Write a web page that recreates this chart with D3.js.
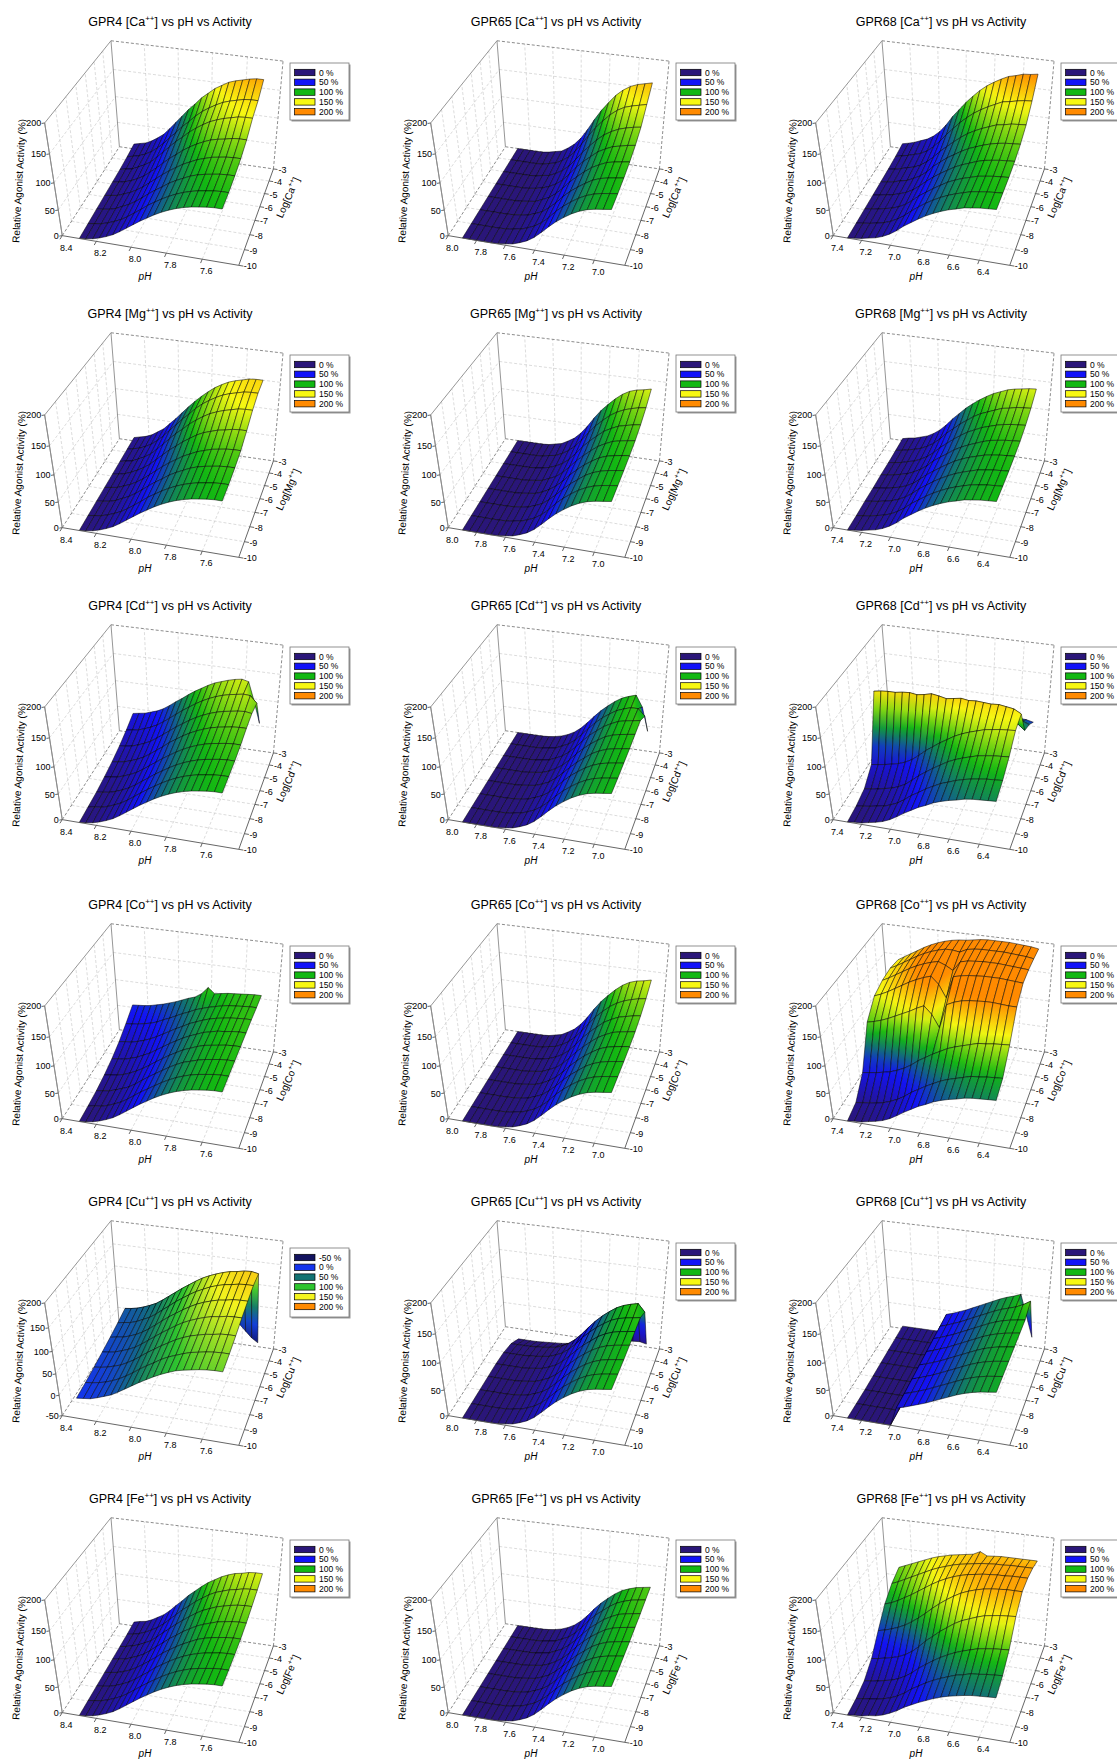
<!DOCTYPE html>
<html>
<head>
<meta charset="UTF-8">
<title>GPR4 / GPR65 / GPR68 - metal ions vs pH vs activity</title>
<script src="https://cdn.jsdelivr.net/npm/d3@7"></script>
<style>
  body { margin: 0; background: #fff; }
  svg text { font-family: "Liberation Sans", Arial, sans-serif; fill: #000; }
</style>
</head>
<body>
<svg id="chart" width="1117" height="1761"></svg>
<script>
// ---------- axes / categories ----------
var receptors = ["GPR4", "GPR65", "GPR68"];
var metals = ["Ca", "Mg", "Cd", "Co", "Cu", "Fe"];
var logConc = [-10, -9, -8, -7, -6, -5, -4, -3];
var logTicks = [-3, -4, -5, -6, -7, -8, -9, -10];
var phGPR4 = [8.30, 8.26, 8.22, 8.18, 8.14, 8.10, 8.06, 8.02, 7.98, 7.94, 7.90,
              7.86, 7.82, 7.78, 7.74, 7.70, 7.66, 7.62, 7.58, 7.54, 7.50];
var phGPR65 = [7.90, 7.85, 7.80, 7.75, 7.70, 7.65, 7.60, 7.55, 7.50, 7.45, 7.40,
               7.35, 7.30, 7.25, 7.20, 7.15, 7.10, 7.05, 7.00, 6.95, 6.90];
var phGPR68 = [7.30, 7.25, 7.20, 7.15, 7.10, 7.05, 7.00, 6.95, 6.90, 6.85, 6.80,
               6.75, 6.70, 6.65, 6.60, 6.55, 6.50, 6.45, 6.40, 6.35, 6.30];
var phRangeGPR4 = [8.4, 7.4], phRangeGPR65 = [8.0, 6.8], phRangeGPR68 = [7.4, 6.2];
var phTicksGPR4 = [8.4, 8.2, 8.0, 7.8, 7.6];
var phTicksGPR65 = [8.0, 7.8, 7.6, 7.4, 7.2, 7.0];
var phTicksGPR68 = [7.4, 7.2, 7.0, 6.8, 6.6, 6.4];
var actTicks = [0, 50, 100, 150, 200];
var actTicksCu4 = [-50, 0, 50, 100, 150, 200];
var legendLevels = [0, 50, 100, 150, 200];
var legendLevelsCu4 = [-50, 0, 50, 100, 150, 200];
var legendColors = ["#2a1679", "#1212f8", "#12b812", "#f8f812", "#ff8a00"];
var legendColorsCu4 = ["#12125e", "#1434ec", "#127272", "#2ec42e", "#f4f41e", "#ff8a00"];
// activity values at which the surface reaches each legend colour
var surfaceStops = [0, 50, 100, 140, 175];
var surfaceStopsCu4 = [-50, 0, 50, 100, 140, 175];

// ---------- surfaces: rows = log[M++] -10 .. -3, columns = pH high .. low ----------
var gpr4Ca = [
  [0,2,4,8,13,19,27,36,45,54,62,70,77,83,88,92,95,97,99,100,100],
  [1,3,5,9,14,20,28,37,46,56,64,72,79,85,90,94,97,99,101,102,102],
  [2,4,6,10,16,22,30,39,49,58,66,75,82,88,94,98,101,103,105,106,106],
  [3,5,7,12,17,24,32,42,52,62,71,79,87,93,99,103,107,109,111,112,112],
  [4,6,9,13,19,26,36,46,57,68,77,87,95,102,108,113,116,118,121,122,122],
  [5,8,10,16,22,30,41,53,65,77,87,98,107,115,122,127,131,134,137,138,138],
  [7,10,13,18,25,34,45,58,70,83,94,106,116,124,131,137,141,144,147,148,148],
  [10,13,16,22,30,39,52,66,80,94,106,119,129,139,146,153,157,160,163,165,165]];
var gpr65Ca = [
  [0,0,0,0,0,1,3,5,10,16,25,37,50,62,72,81,88,93,96,98,100],
  [0,0,0,0,0,1,3,5,10,16,25,37,51,63,73,82,89,94,97,99,101],
  [0,0,0,0,0,1,3,5,10,16,26,38,52,64,74,83,91,96,99,101,103],
  [0,0,0,0,0,1,3,5,11,17,27,40,54,66,77,87,94,100,103,105,107],
  [0,0,0,0,0,1,3,6,11,18,28,42,57,70,81,92,99,105,108,111,113],
  [0,0,0,0,0,1,4,6,12,20,31,46,62,76,89,100,108,114,118,121,123],
  [0,0,0,0,0,1,4,7,14,23,36,53,71,88,102,115,125,132,136,139,142],
  [0,0,0,0,0,2,5,8,16,26,40,59,80,99,115,130,141,149,154,157,160]];
var gpr68Ca = [
  [0,2,4,7,10,15,22,31,42,51,60,68,75,81,86,90,94,96,98,99,100],
  [1,3,5,8,11,16,23,32,43,53,62,70,77,83,88,92,96,98,100,101,102],
  [2,4,6,9,12,17,24,34,45,54,63,71,79,85,90,94,98,100,102,103,104],
  [3,5,7,10,14,19,26,36,47,57,66,74,82,88,93,98,102,104,106,107,108],
  [4,6,8,12,15,21,28,38,51,61,71,79,87,94,99,104,108,111,113,114,115],
  [5,7,10,14,17,23,32,43,56,67,78,88,97,104,110,115,120,122,125,126,127],
  [7,10,13,17,21,28,38,51,66,79,92,103,113,121,128,134,140,142,145,147,148],
  [10,13,17,22,27,35,46,61,79,94,109,122,134,144,152,159,165,168,172,173,175]];
var gpr4Mg = [
  [0,2,4,8,13,19,27,36,45,54,62,70,77,83,88,92,95,97,99,100,100],
  [1,3,5,9,14,20,28,37,46,56,64,72,79,85,90,94,97,99,101,102,102],
  [2,4,6,10,16,22,30,39,49,58,66,75,82,88,94,98,101,103,105,106,106],
  [3,5,7,12,17,24,32,42,52,62,71,79,87,93,99,103,107,109,111,112,112],
  [4,6,9,14,20,27,36,47,58,69,78,88,96,104,110,114,118,120,123,124,124],
  [5,8,10,16,22,30,41,53,65,77,87,98,107,115,122,127,131,134,137,138,138],
  [6,9,12,17,24,33,44,57,69,82,93,105,115,123,130,136,140,143,146,147,147],
  [7,10,13,18,26,34,46,58,71,84,96,107,117,126,133,139,143,146,149,150,150]];
var gpr65Mg = [
  [0,0,0,0,0,1,3,5,10,16,25,37,50,62,72,81,88,93,96,98,100],
  [0,0,0,0,0,1,3,5,10,16,25,37,51,63,73,82,89,94,97,99,101],
  [0,0,0,0,0,1,3,5,10,16,26,38,51,63,73,83,90,95,98,100,102],
  [0,0,0,0,0,1,3,5,10,17,26,38,52,64,75,84,92,97,100,102,104],
  [0,0,0,0,0,1,3,5,11,17,27,40,54,66,77,87,94,100,103,105,107],
  [0,0,0,0,0,1,3,6,11,18,28,42,57,70,81,92,99,105,108,111,113],
  [0,0,0,0,0,1,4,6,12,20,31,45,61,76,88,99,107,113,117,120,122],
  [0,0,0,0,0,1,4,7,14,22,34,50,68,84,97,109,119,126,130,132,135]];
var gpr68Mg = [
  [0,2,4,7,10,15,22,31,42,51,60,68,75,81,86,90,94,96,98,99,100],
  [0,2,4,7,10,15,22,31,42,51,60,68,75,81,86,90,94,96,98,99,100],
  [1,3,5,8,11,16,23,32,43,52,61,69,76,82,87,91,95,97,99,100,101],
  [1,3,5,8,11,16,23,33,44,53,62,70,78,84,89,93,97,99,101,102,103],
  [2,4,6,9,12,18,25,34,46,55,64,73,80,86,91,96,100,102,104,105,106],
  [2,4,6,10,13,19,26,36,48,58,68,77,85,91,97,101,105,108,110,111,112],
  [3,5,8,11,15,21,29,40,53,63,74,83,92,99,104,109,114,116,119,120,121],
  [4,7,9,13,17,24,33,45,59,71,83,93,102,110,117,122,127,130,132,134,135]];
var gpr4Cd = [
  [0,2,4,8,13,19,27,36,45,54,62,70,77,83,88,92,95,97,99,100,100],
  [2,4,6,10,15,21,29,38,47,56,64,72,79,85,90,94,97,99,101,102,102],
  [4,6,8,12,17,23,31,40,49,58,66,74,81,87,92,96,99,101,103,104,104],
  [8,10,12,16,21,27,35,44,53,62,70,78,85,91,96,100,103,105,107,108,108],
  [13,15,17,21,26,32,40,49,58,68,76,84,91,97,102,106,109,111,113,114,114],
  [20,22,24,28,33,39,47,56,65,74,82,90,97,103,108,112,115,117,119,120,118],
  [29,31,33,37,42,48,56,65,74,83,91,99,106,112,117,121,124,126,128,127,115],
  [40,42,44,48,52,58,66,75,83,92,100,107,114,120,124,128,131,133,130,95,55]];
var gpr65Cd = [
  [0,0,0,0,0,1,3,5,10,16,25,37,50,62,72,81,88,93,96,98,100],
  [0,0,0,0,0,1,3,5,10,16,25,37,50,62,72,81,88,93,96,98,100],
  [0,0,0,0,0,1,3,5,10,16,25,37,51,63,73,82,89,94,97,99,101],
  [0,0,0,0,0,1,3,5,10,16,26,38,51,63,73,83,90,95,98,100,102],
  [0,0,0,0,0,1,3,5,10,17,26,38,52,64,75,84,92,97,100,102,104],
  [0,0,0,0,0,1,3,5,11,17,27,39,53,66,76,86,93,99,102,104,106],
  [0,0,0,0,0,1,3,5,11,17,27,40,54,67,78,87,95,100,104,104,92],
  [0,0,0,0,0,1,3,6,11,18,28,41,55,68,79,89,97,102,106,85,40]];
var gpr68Cd = [
  [0,2,3,6,9,13,19,27,36,44,52,58,65,70,74,77,81,83,84,85,86],
  [3,5,7,10,12,17,23,32,42,50,59,66,73,78,83,87,90,92,94,95,96],
  [10,12,14,17,20,25,32,42,53,62,71,79,87,93,98,102,106,108,110,111,112],
  [32,34,36,39,42,47,54,64,75,84,93,101,109,115,120,124,128,130,132,133,134],
  [145,147,148,148,150,151,149,151,154,152,149,151,153,151,152,151,150,151,149,147,140],
  [92,93,94,95,96,97,98,99,100,100,101,101,102,102,102,102,102,101,100,98,88],
  [72,73,74,75,76,77,78,79,80,80,81,81,82,82,82,82,82,82,82,81,76],
  [55,55,56,57,58,59,60,60,61,61,62,62,62,62,62,62,62,62,62,61,58]];
var gpr4Co = [
  [0,2,4,8,13,19,27,36,45,54,62,70,77,83,88,92,95,97,99,100,100],
  [2,4,6,10,15,21,29,38,47,55,63,71,78,84,89,93,96,98,100,101,101],
  [5,7,9,13,18,23,31,40,49,57,65,73,80,86,90,94,97,99,101,102,102],
  [10,12,14,17,22,28,35,43,52,60,68,75,82,87,92,96,98,100,102,103,103],
  [17,19,20,24,28,34,40,48,56,64,71,78,84,89,94,97,100,101,103,104,104],
  [27,29,30,33,37,42,48,55,62,69,75,82,87,92,96,99,101,103,104,105,105],
  [40,41,43,45,48,52,58,63,69,75,80,86,90,94,97,100,102,103,104,105,105],
  [55,56,57,59,62,65,69,73,78,83,87,95,108,98,100,102,103,104,105,106,106]];
var gpr65Co = [
  [0,0,0,0,0,1,3,5,10,16,25,37,50,62,72,81,88,93,96,98,100],
  [0,0,0,0,0,1,3,5,10,16,25,37,51,63,73,82,89,94,97,99,101],
  [0,0,0,0,0,1,3,5,10,16,26,38,51,63,73,83,90,95,98,100,102],
  [0,0,0,0,0,1,3,5,10,17,26,38,52,64,75,84,92,97,100,102,104],
  [0,0,0,0,0,1,3,5,11,17,27,40,54,66,77,87,94,100,103,105,107],
  [0,0,0,0,0,1,3,6,11,18,28,42,57,70,81,92,99,105,108,111,113],
  [0,0,0,0,0,1,4,6,12,20,31,45,61,76,88,99,107,113,117,120,122],
  [0,0,0,0,0,1,4,7,14,22,34,50,68,84,97,109,119,126,130,132,135]];
var gpr68Co = [
  [0,2,3,6,9,13,19,27,36,44,52,58,65,70,74,77,81,83,84,85,86],
  [8,10,12,14,17,22,28,36,46,54,62,69,76,81,85,89,93,94,96,97,98],
  [40,42,44,47,50,55,61,69,79,87,95,102,109,114,118,122,126,127,129,130,131],
  [110,113,117,122,128,134,140,147,153,140,118,160,166,170,172,173,174,174,173,172,172],
  [135,140,146,153,160,167,173,178,182,170,148,186,189,191,192,193,193,193,192,191,190],
  [142,148,155,162,169,175,180,184,187,182,175,191,194,195,196,196,196,195,194,193,192],
  [144,150,157,164,171,177,182,186,189,189,187,193,195,196,196,196,196,195,194,193,191],
  [140,147,154,161,168,174,179,183,186,188,189,191,193,194,194,194,194,193,192,191,189]];
var gpr4Cu = [
  [0,2,4,9,15,21,30,40,50,60,69,78,86,93,99,103,106,109,111,112,112],
  [3,5,8,12,18,25,34,44,55,65,74,84,92,98,104,109,112,115,117,118,118],
  [7,9,12,17,22,30,39,50,61,71,81,90,99,106,112,116,120,122,125,126,126],
  [12,14,17,22,28,35,45,56,67,78,88,98,107,114,120,125,129,131,134,135,135],
  [17,20,22,27,33,41,51,62,74,85,95,105,114,122,128,133,137,139,142,143,143],
  [23,26,28,33,40,47,57,69,80,92,102,112,121,128,135,140,144,146,149,150,150],
  [30,32,35,40,46,53,63,74,85,96,106,116,125,132,138,143,147,149,152,153,150],
  [-5,-4,-2,0,3,6,10,14,18,22,25,27,28,27,25,20,12,0,-15,-30,-40]];
var gpr65Cu = [
  [0,0,0,0,0,1,3,5,10,16,25,37,50,62,72,81,88,93,96,98,100],
  [0,0,0,0,0,1,3,5,10,16,25,37,50,62,72,81,88,93,96,98,100],
  [0,0,0,0,0,1,3,5,10,16,25,37,50,62,72,81,88,93,96,98,100],
  [0,0,0,0,0,1,3,5,10,16,25,37,51,63,73,82,89,94,97,99,101],
  [0,0,0,0,0,1,3,5,10,16,26,38,51,63,73,83,90,95,98,100,102],
  [-2,-2,-2,-2,-1,0,2,4,9,15,25,37,52,64,75,84,92,97,100,102,104],
  [-8,-8,-8,-8,-7,-6,-4,-2,3,10,20,33,48,62,74,84,93,99,103,106,92],
  [-22,-22,-22,-22,-21,-20,-19,-18,-16,-14,-11,-8,-5,-2,1,3,5,7,8,9,6]];
var gpr68Cu = [
  [0,0,0,0,0,0,0,36,40,45,50,55,61,67,73,79,84,88,91,93,95],
  [0,0,0,0,0,0,0,36,40,45,50,56,62,68,74,80,85,89,92,94,96],
  [0,0,0,0,0,0,1,37,41,46,51,57,63,69,75,81,86,90,93,95,97],
  [1,1,1,1,1,1,2,38,42,47,52,58,64,70,76,82,87,91,94,96,98],
  [2,2,2,2,2,2,3,39,43,48,53,59,65,71,77,83,88,92,95,97,99],
  [3,3,3,3,3,3,4,40,44,49,54,60,66,72,78,84,89,93,96,98,100],
  [4,4,4,4,4,4,5,41,45,50,55,61,67,73,79,85,90,94,98,104,112],
  [5,5,5,5,5,5,6,42,46,51,56,62,68,74,80,86,91,95,100,60,20]];
var gpr4Fe = [
  [0,2,4,8,13,19,27,36,45,54,62,70,77,83,88,92,95,97,99,100,100],
  [1,3,5,9,14,20,28,37,46,55,63,71,78,84,89,93,96,98,100,101,101],
  [2,4,6,10,15,21,29,38,47,57,65,73,80,86,91,95,98,100,102,103,103],
  [3,5,7,11,16,23,31,40,49,59,67,75,82,88,94,98,101,103,105,106,106],
  [4,6,8,13,18,24,33,43,52,62,70,79,86,93,98,102,106,108,110,111,111],
  [5,7,10,14,20,26,36,46,56,66,75,84,92,99,104,109,112,115,117,118,118],
  [6,8,11,16,22,29,38,49,60,71,80,90,98,106,112,116,120,122,125,126,126],
  [8,11,13,18,25,32,42,54,65,77,87,97,106,113,120,125,129,131,134,135,135]];
var gpr65Fe = [
  [0,0,0,0,0,1,3,5,10,16,25,37,50,62,72,81,88,93,96,98,100],
  [0,0,0,0,0,1,3,5,10,16,25,37,50,62,72,81,88,93,96,98,100],
  [0,0,0,0,0,1,3,5,10,16,25,37,51,63,73,82,89,94,97,99,101],
  [0,0,0,0,0,1,3,5,10,16,26,38,51,63,73,83,90,95,98,100,102],
  [0,0,0,0,0,1,3,5,10,17,26,38,52,64,75,84,92,97,100,102,104],
  [0,0,0,0,0,1,3,5,11,17,27,39,53,66,76,86,93,99,102,104,106],
  [0,0,0,0,0,1,3,5,11,17,27,40,55,68,78,88,96,101,105,107,109],
  [0,0,0,0,0,1,3,6,11,18,28,41,56,69,80,90,98,103,107,109,111]];
var gpr68Fe = [
  [0,2,3,6,8,12,18,25,34,41,48,54,60,65,69,72,75,77,78,79,80],
  [4,6,8,10,13,17,23,31,41,49,57,64,70,75,80,83,87,88,90,91,92],
  [12,14,16,19,22,27,34,43,54,63,72,80,87,93,98,102,106,108,110,111,112],
  [30,32,35,38,42,48,56,67,80,90,101,110,119,126,131,136,140,142,144,145,146],
  [60,63,67,72,78,86,95,105,116,126,135,143,150,155,159,162,164,165,166,166,166],
  [88,92,98,105,112,120,128,136,143,149,154,158,161,163,165,166,167,167,168,168,168],
  [105,110,116,122,128,134,140,145,149,153,156,158,160,162,163,164,164,165,165,165,165],
  [115,120,125,130,135,140,144,147,150,152,154,156,162,156,157,158,158,158,158,158,158]];

var surfaces = {
  GPR4:  {Ca: gpr4Ca,  Mg: gpr4Mg,  Cd: gpr4Cd,  Co: gpr4Co,  Cu: gpr4Cu,  Fe: gpr4Fe},
  GPR65: {Ca: gpr65Ca, Mg: gpr65Mg, Cd: gpr65Cd, Co: gpr65Co, Cu: gpr65Cu, Fe: gpr65Fe},
  GPR68: {Ca: gpr68Ca, Mg: gpr68Mg, Cd: gpr68Cd, Co: gpr68Co, Cu: gpr68Cu, Fe: gpr68Fe}
};
var phPoints = {GPR4: phGPR4, GPR65: phGPR65, GPR68: phGPR68};
var phRange = {GPR4: phRangeGPR4, GPR65: phRangeGPR65, GPR68: phRangeGPR68};
var phTicks = {GPR4: phTicksGPR4, GPR65: phTicksGPR65, GPR68: phTicksGPR68};

// ---------- layout ----------
var colX = [170, 556, 941];
var rowY = [21, 313, 605, 904, 1201, 1498];

// screen position of the box corners, relative to the title centre
var boxCorners = [
  [[0, 0, 0], [-108.3, 213.7]],
  [[1, 0, 0], [70, 243.7]],
  [[1, 1, 0], [103.3, 148.3]],
  [[0, 1, 0], [-51, 126.7]],
  [[0, 0, 1], [-125.7, 102.3]],
  [[1, 0, 1], [74.9, 131.7]],
  [[0, 1, 1], [-57.7, 19.3]],
  [[1, 1, 1], [112.3, 39]]
];

// fit a perspective camera (3x4) to the box corners
function fitCamera(pairs) {
  var n = 11, M = [], r = [];
  for (var i = 0; i < n; i++) { M.push(new Array(n).fill(0)); r.push(0); }
  pairs.forEach(function(pr) {
    var X = pr[0][0], Y = pr[0][1], Z = pr[0][2], x = pr[1][0], y = pr[1][1];
    var rows = [[[X, Y, Z, 1, 0, 0, 0, 0, -x * X, -x * Y, -x * Z], x],
                [[0, 0, 0, 0, X, Y, Z, 1, -y * X, -y * Y, -y * Z], y]];
    rows.forEach(function(rb) {
      var a = rb[0], b = rb[1];
      for (var i = 0; i < n; i++) {
        r[i] += a[i] * b;
        for (var j = 0; j < n; j++) M[i][j] += a[i] * a[j];
      }
    });
  });
  for (var i = 0; i < n; i++) {
    var p = i;
    for (var k = i + 1; k < n; k++) if (Math.abs(M[k][i]) > Math.abs(M[p][i])) p = k;
    var t = M[i]; M[i] = M[p]; M[p] = t; t = r[i]; r[i] = r[p]; r[p] = t;
    for (var k = i + 1; k < n; k++) {
      var f = M[k][i] / M[i][i];
      for (var j = i; j < n; j++) M[k][j] -= f * M[i][j];
      r[k] -= f * r[i];
    }
  }
  var s = new Array(n).fill(0);
  for (var i = n - 1; i >= 0; i--) {
    var acc = r[i];
    for (var j = i + 1; j < n; j++) acc -= M[i][j] * s[j];
    s[i] = acc / M[i][i];
  }
  return [[s[0], s[1], s[2], s[3]], [s[4], s[5], s[6], s[7]], [s[8], s[9], s[10], 1]];
}
function det3(a) {
  return a[0][0] * (a[1][1] * a[2][2] - a[1][2] * a[2][1])
       - a[0][1] * (a[1][0] * a[2][2] - a[1][2] * a[2][0])
       + a[0][2] * (a[1][0] * a[2][1] - a[1][1] * a[2][0]);
}
var P = fitCamera(boxCorners);
var camC = [0, 1, 2, 3].map(function(k) {
  var sub = P.map(function(row) { return row.filter(function(_, j) { return j !== k; }); });
  return (k % 2 ? -1 : 1) * det3(sub);
});
var cam = [camC[0] / camC[3], camC[1] / camC[3], camC[2] / camC[3]];
function proj(p) {
  var q = P.map(function(row) { return row[0] * p[0] + row[1] * p[1] + row[2] * p[2] + row[3]; });
  return [q[0] / q[2], q[1] / q[2]];
}

var svg = d3.select("#chart");
var defs = svg.append("defs");
var gradId = 0;

// fill of one mesh cell: linear gradient along the screen direction in which the value grows
function cellFill(pts, vals, color) {
  var fmin = d3.min(vals), fmax = d3.max(vals), fc = d3.mean(vals);
  if (fmax - fmin < 0.5) return color(fc);
  var d1 = [pts[2][0] - pts[0][0], pts[2][1] - pts[0][1]];
  var d2 = [pts[3][0] - pts[1][0], pts[3][1] - pts[1][1]];
  var f1 = vals[2] - vals[0], f2 = vals[3] - vals[1];
  var det = d1[0] * d2[1] - d1[1] * d2[0];
  if (Math.abs(det) < 0.3) return color(fc);
  var gx = (f1 * d2[1] - d1[1] * f2) / det, gy = (d1[0] * f2 - f1 * d2[0]) / det;
  var g2 = gx * gx + gy * gy;
  if (g2 < 1e-9) return color(fc);
  var cx = d3.mean(pts, function(p) { return p[0]; }), cy = d3.mean(pts, function(p) { return p[1]; });
  var id = "cg" + (gradId++);
  var lg = defs.append("linearGradient").attr("id", id).attr("gradientUnits", "userSpaceOnUse")
    .attr("x1", cx + gx * (fmin - fc) / g2).attr("y1", cy + gy * (fmin - fc) / g2)
    .attr("x2", cx + gx * (fmax - fc) / g2).attr("y2", cy + gy * (fmax - fc) / g2);
  for (var k = 0; k <= 4; k++) {
    lg.append("stop").attr("offset", k / 4).attr("stop-color", color(fmin + (fmax - fmin) * k / 4));
  }
  return "url(#" + id + ")";
}

function poly(pts) { return "M" + pts.map(function(p) { return p[0].toFixed(2) + "," + p[1].toFixed(2); }).join("L") + "Z"; }
function seg(a, b) { var p = proj(a), q = proj(b); return "M" + p[0] + "," + p[1] + "L" + q[0] + "," + q[1]; }

function addSupText(sel, before, sup, after, supSize) {
  sel.append("tspan").text(before);
  sel.append("tspan").attr("font-size", supSize).attr("dy", -supSize * 0.6).text(sup);
  sel.append("tspan").attr("dy", supSize * 0.6).text(after);
}

function drawPanel(c, r) {
  var rec = receptors[c], metal = metals[r];
  var values = surfaces[rec][metal];
  var isCu4 = rec === "GPR4" && metal === "Cu";
  var zTicks = isCu4 ? actTicksCu4 : actTicks;
  var levels = isCu4 ? legendLevelsCu4 : legendLevels;
  var colors = isCu4 ? legendColorsCu4 : legendColors;
  var color = d3.scaleLinear().domain(isCu4 ? surfaceStopsCu4 : surfaceStops).range(colors)
    .interpolate(d3.interpolateRgb).clamp(true);
  var xs = d3.scaleLinear().domain(phRange[rec]).range([0, 1]);
  var ys = d3.scaleLinear().domain([-10, -3]).range([0, 1]);
  var zs = d3.scaleLinear().domain([zTicks[0], 200]).range([0, 1]);
  var ph = phPoints[rec];

  var g = svg.append("g").attr("transform", "translate(" + colX[c] + "," + rowY[r] + ")");

  // title
  addSupText(g.append("text").attr("x", 0).attr("y", 4.5).attr("text-anchor", "middle").attr("font-size", 12.5),
    rec + " [" + metal, "++", "] vs pH vs Activity", 8);

  // grid on the floor and the two back walls
  var grid = g.append("g").attr("fill", "none").attr("stroke", "#c4c4c4").attr("stroke-width", 0.6)
    .attr("stroke-dasharray", "3,2");
  phTicks[rec].forEach(function(t) {
    var u = xs(t);
    if (u <= 0.001) return;
    grid.append("path").attr("d", seg([u, 0, 0], [u, 1, 0]));
    grid.append("path").attr("d", seg([u, 1, 0], [u, 1, 1]));
  });
  logTicks.forEach(function(t) {
    var v = ys(t);
    if (v <= 0.001 || v >= 0.999) return;
    grid.append("path").attr("d", seg([0, v, 0], [1, v, 0]));
    grid.append("path").attr("d", seg([0, v, 0], [0, v, 1]));
  });
  zTicks.forEach(function(t) {
    var w = zs(t);
    if (w <= 0.001 || w >= 0.999) return;
    grid.append("path").attr("d", seg([0, 1, w], [1, 1, w]));
    grid.append("path").attr("d", seg([0, 0, w], [0, 1, w]));
  });
  // box edges
  var dashed = g.append("g").attr("fill", "none").attr("stroke", "#6e6e6e").attr("stroke-width", 0.8)
    .attr("stroke-dasharray", "3,2");
  [[[0, 1, 1], [1, 1, 1]], [[1, 1, 0], [1, 1, 1]], [[0, 1, 0], [1, 1, 0]], [[0, 0, 0], [0, 1, 0]]].forEach(function(e) {
    dashed.append("path").attr("d", seg(e[0], e[1]));
  });
  var solid = g.append("g").attr("fill", "none").attr("stroke", "#8a8a8a").attr("stroke-width", 0.9);
  [[[0, 0, 0], [0, 0, 1]], [[0, 0, 1], [0, 1, 1]], [[0, 1, 0], [0, 1, 1]]].forEach(function(e) {
    solid.append("path").attr("d", seg(e[0], e[1]));
  });

  // surface, painted from far to near
  var cells = [];
  for (var j = 0; j < logConc.length - 1; j++) {
    for (var i = 0; i < ph.length - 1; i++) {
      var idx = [[i, j], [i + 1, j], [i + 1, j + 1], [i, j + 1]];
      var uvw = idx.map(function(ab) { return [xs(ph[ab[0]]), ys(logConc[ab[1]]), zs(values[ab[1]][ab[0]])]; });
      var vals = idx.map(function(ab) { return values[ab[1]][ab[0]]; });
      var cu = d3.mean(uvw, function(p) { return p[0]; }), cv = d3.mean(uvw, function(p) { return p[1]; });
      cells.push({pts: uvw.map(proj), vals: vals,
        depth: (cu - cam[0]) * (cu - cam[0]) + (cv - cam[1]) * (cv - cam[1])});
    }
  }
  cells.sort(function(a, b) { return b.depth - a.depth; });
  var surf = g.append("g").attr("stroke", "#000").attr("stroke-width", 0.5).attr("stroke-linejoin", "round");
  cells.forEach(function(cell) {
    surf.append("path").attr("d", poly(cell.pts)).attr("fill", cellFill(cell.pts, cell.vals, color));
  });

  // axes with ticks
  var ax = g.append("g").attr("fill", "none").attr("stroke", "#555").attr("stroke-width", 0.9);
  ax.append("path").attr("d", seg([0, 0, 0], [1, 0, 0]));
  ax.append("path").attr("d", seg([1, 0, 0], [1, 1, 0]));
  ax.append("path").attr("d", seg([0, 0, 0], [0, 0, 1])).attr("stroke", "#8a8a8a");
  var labels = g.append("g").attr("font-size", 9);
  zTicks.forEach(function(t) {
    var p = proj([0, 0, zs(t)]);
    ax.append("path").attr("d", "M" + p[0] + "," + p[1] + "l-3,0.5");
    labels.append("text").attr("x", p[0] - 3.5).attr("y", p[1] + 3.5).attr("text-anchor", "end").text(t);
  });
  phTicks[rec].forEach(function(t) {
    var u = xs(t), p = proj([u, 0, 0]), q = proj([u, -0.035, 0]);
    ax.append("path").attr("d", "M" + p[0] + "," + p[1] + "L" + q[0] + "," + q[1]);
    labels.append("text").attr("x", p[0] + 4).attr("y", p[1] + 15).attr("text-anchor", "middle").text(t.toFixed(1));
  });
  logTicks.forEach(function(t) {
    var v = ys(t), p = proj([1, v, 0]), q = proj([1.025, v, 0]);
    ax.append("path").attr("d", "M" + p[0] + "," + p[1] + "L" + q[0] + "," + q[1]);
    labels.append("text").attr("x", p[0] + 5).attr("y", p[1] + 4).text(t);
  });

  // axis titles
  g.append("text").attr("transform", "translate(-147.5,160) rotate(-87)").attr("text-anchor", "middle")
    .attr("font-size", 10).text("Relative Agonist Activity (%)");
  g.append("text").attr("x", -25).attr("y", 259).attr("text-anchor", "middle").attr("font-size", 10)
    .attr("font-style", "italic").text("pH");
  addSupText(g.append("text").attr("transform", "translate(121,178) rotate(-66)").attr("text-anchor", "middle")
    .attr("font-size", 10), "Log[" + metal, "++", "]", 7);

  // legend
  var ly = isCu4 ? 47 : 42, lh = isCu4 ? 69 : 57;
  var leg = g.append("g");
  leg.append("rect").attr("x", 121.5).attr("y", ly + 1.5).attr("width", 59).attr("height", lh).attr("fill", "#9a9a9a");
  leg.append("rect").attr("x", 120).attr("y", ly).attr("width", 59).attr("height", lh)
    .attr("fill", "#fff").attr("stroke", "#777").attr("stroke-width", 0.8);
  levels.forEach(function(lv, k) {
    var cy = ly + 9.5 + k * 9.8;
    leg.append("rect").attr("x", 124.5).attr("y", cy - 3.2).attr("width", 20.5).attr("height", 6.4)
      .attr("fill", colors[k]).attr("stroke", "#000").attr("stroke-width", 0.7);
    leg.append("text").attr("x", 149).attr("y", cy + 3).attr("font-size", 8.5).text(lv + " %");
  });
}

for (var r = 0; r < metals.length; r++) {
  for (var c = 0; c < receptors.length; c++) drawPanel(c, r);
}
</script>
</body>
</html>
